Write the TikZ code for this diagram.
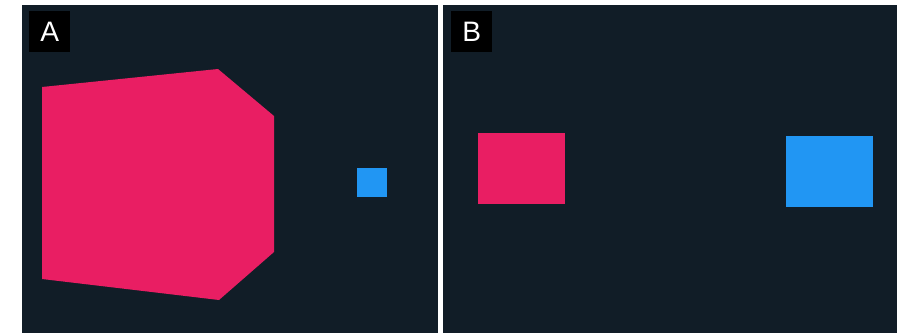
\documentclass[tikz,border=0pt]{standalone}
\usepackage{fontspec}
\setmainfont{Liberation Sans}
\usetikzlibrary{positioning}
\definecolor{panelbg}{HTML}{111D27}
\definecolor{shapepink}{HTML}{E91E63}
\definecolor{shapeblue}{HTML}{2196F3}

\begin{document}
\begin{tikzpicture}[
  x=0.03cm, y=-0.03cm,
  panel/.style={fill=panelbg, draw=none},
  tag/.style={rectangle, fill=black, text=white, minimum width=1.23cm,
              minimum height=1.23cm, inner sep=0pt, font=\fontsize{24}{24}\selectfont},
  pinkface/.style={fill=shapepink, draw=none},
  blueface/.style={fill=shapeblue, draw=none},
]

%% ── Canvas ───────────────────────────────────────────────────────────────────
\fill[white] (0,0) rectangle (900,333);
\useasboundingbox (0,0) rectangle (900,333);

%% ── Panel A ──────────────────────────────────────────────────────────────────
\fill[panel] (22,5) rectangle (438,333);
\node[tag, anchor=north west] (tagA) at (29,11) {A};

\fill[pinkface] (42,87) -- (218,69) -- (274,116) -- (274,252)
    -- (219,300) -- (42,279) -- cycle;
\fill[blueface] (357,168) rectangle (387,197);

%% ── Panel B ──────────────────────────────────────────────────────────────────
\fill[panel] (443,5) rectangle (897,333);
\node[tag, anchor=north west] (tagB) at (451,11) {B};

\fill[pinkface] (478,133) rectangle (565,204);
\fill[blueface] (786,136) rectangle (873,207);

\end{tikzpicture}
\end{document}
